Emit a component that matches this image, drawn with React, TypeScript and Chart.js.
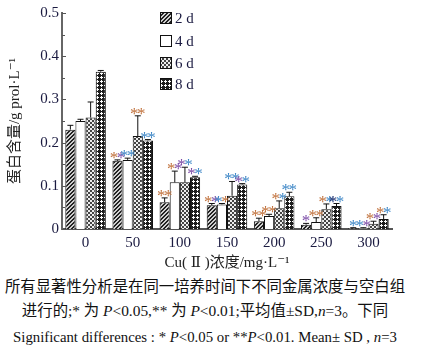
import React, { useEffect, useRef } from "react";
import { Chart, registerables } from "chart.js";
Chart.register(...registerables);

const categories = ["0", "50", "100", "150", "200", "250", "300"];
const seriesNames = ["2 d", "4 d", "6 d", "8 d"];

const mean2d = [0.230, 0.158, 0.062, 0.055, 0.018, 0.010, 0.002];
const sd2d = [0.010, 0.002, 0.010, 0.004, 0.007, 0.003, 0.001];
const mean4d = [0.250, 0.160, 0.108, 0.057, 0.030, 0.016, 0.002];
const sd4d = [0.004, 0.004, 0.026, 0.002, 0.004, 0.010, 0.001];
const mean6d = [0.258, 0.215, 0.108, 0.077, 0.048, 0.046, 0.012];
const sd6d = [0.036, 0.047, 0.035, 0.033, 0.017, 0.012, 0.006];
const mean8d = [0.364, 0.205, 0.120, 0.103, 0.076, 0.053, 0.023];
const sd8d = [0.003, 0.002, 0.002, 0.002, 0.009, 0.006, 0.010];

const sig2d = ["", "**", "**", "**", "**", "*", "*"];
const sig4d = ["", "**", "**", "**", "**", "**", "**"];
const sig6d = ["", "**", "**", "**", "**", "**", "**"];
const sig8d = ["", "**", "**", "**", "**", "**", "**"];

// star colours, one letter per star: o=orange, b=blue, p=purple, n=navy
const sigColor2d = ["", "op", "oo", "op", "oo", "p", "b"];
const sigColor4d = ["", "bb", "op", "bo", "oo", "oo", "bp"];
const sigColor6d = ["", "oo", "pb", "bb", "ob", "ob", "op"];
const sigColor8d = ["", "bb", "pb", "pb", "bb", "nb", "ob"];

const yMin = 0;
const yMax = 0.5;
const yStep = 0.1;
const yMinorStep = 0.05;

const means = [mean2d, mean4d, mean6d, mean8d];
const sds = [sd2d, sd4d, sd6d, sd8d];
const sigs = [sig2d, sig4d, sig6d, sig8d];
const sigColors = [sigColor2d, sigColor4d, sigColor6d, sigColor8d];

const STAR_COLORS: Record<string, string> = {
  o: "#c0703a",
  b: "#3d86c6",
  p: "#7b4aa6",
  n: "#1d2b6b",
};

const SERIF = "'Liberation Serif', 'DejaVu Serif', 'Noto Sans CJK SC', serif";
const TEXT = "#1a1a40";

function makePattern(kind: number): CanvasPattern | string {
  const c = document.createElement("canvas");
  c.width = 4;
  c.height = 4;
  const g = c.getContext("2d")!;
  if (kind === 0) {
    g.fillStyle = "#cfcfcf";
    g.fillRect(0, 0, 4, 4);
    g.fillStyle = "#222";
    for (let i = 0; i < 4; i++) {
      g.fillRect(i, 3 - i, 1, 1);
      g.fillRect((i + 1) % 4, 3 - i, 1, 1);
    }
  } else if (kind === 1) {
    g.fillStyle = "#ffffff";
    g.fillRect(0, 0, 4, 4);
  } else if (kind === 2) {
    g.fillStyle = "#eeeeee";
    g.fillRect(0, 0, 4, 4);
    g.fillStyle = "#444";
    g.fillRect(0, 0, 2, 2);
    g.fillRect(2, 2, 2, 2);
  } else {
    g.fillStyle = "#1e1e1e";
    g.fillRect(0, 0, 4, 4);
    g.fillStyle = "#ffffff";
    g.fillRect(1, 0, 1, 1);
    g.fillRect(0, 1, 3, 1);
    g.fillRect(1, 2, 1, 1);
  }
  return g.createPattern(c, "repeat") || "#888";
}

export default function App() {
  const ref = useRef<HTMLCanvasElement | null>(null);

  useEffect(() => {
    const canvas = ref.current;
    if (!canvas) return;
    const patterns = [0, 1, 2, 3].map(makePattern);

    const extras = {
      id: "extras",
      afterDatasetsDraw(chart: any) {
        const ctx = chart.ctx;
        const y = chart.scales.y;
        ctx.save();
        for (let d = 0; d < means.length; d++) {
          const meta = chart.getDatasetMeta(d);
          meta.data.forEach((bar: any, j: number) => {
            const top = y.getPixelForValue(means[d][j] + sds[d][j]);
            const base = y.getPixelForValue(means[d][j]);
            ctx.strokeStyle = "#111";
            ctx.lineWidth = 1;
            ctx.beginPath();
            ctx.moveTo(bar.x, base);
            ctx.lineTo(bar.x, top);
            ctx.moveTo(bar.x - 3, top);
            ctx.lineTo(bar.x + 3, top);
            ctx.stroke();
            const s = sigs[d][j];
            if (s) {
              const cols = sigColors[d][j];
              ctx.font = "17px " + SERIF;
              ctx.textAlign = "center";
              ctx.textBaseline = "alphabetic";
              const n = s.length;
              for (let k = 0; k < n; k++) {
                const sx = bar.x + (k - (n - 1) / 2) * 7;
                ctx.fillStyle = STAR_COLORS[cols[k] || cols[0]];
                ctx.fillText("*", sx, top + 3);
              }
            }
          });
        }
        ctx.restore();
      },
      afterDraw(chart: any) {
        const ctx = chart.ctx;
        const y = chart.scales.y;
        const left = chart.chartArea.left;
        ctx.save();
        ctx.strokeStyle = "#555";
        ctx.lineWidth = 1;
        for (let v = yMin; v <= yMax + 1e-9; v += yMinorStep) {
          const py = Math.round(y.getPixelForValue(v)) + 0.5;
          const major = Math.abs(v / yStep - Math.round(v / yStep)) < 1e-6;
          ctx.beginPath();
          ctx.moveTo(left, py);
          ctx.lineTo(left + (major ? 4 : 3), py);
          ctx.stroke();
        }
        const lx = 160;
        const rows = [18, 41, 63, 84];
        seriesNames.forEach((name, i) => {
          const cy = rows[i];
          ctx.fillStyle = patterns[i] as any;
          ctx.fillRect(lx, cy - 6, 12, 12);
          ctx.strokeStyle = "#111";
          ctx.lineWidth = 1;
          ctx.strokeRect(lx + 0.5, cy - 5.5, 11, 11);
          ctx.fillStyle = TEXT;
          ctx.font = "15px " + SERIF;
          ctx.textAlign = "left";
          ctx.textBaseline = "middle";
          ctx.fillText(name, lx + 15, cy + 1);
        });
        ctx.restore();
      },
    };

    const chart = new Chart(canvas, {
      type: "bar",
      data: {
        labels: categories,
        datasets: means.map((m, i) => ({
          label: seriesNames[i],
          data: m,
          backgroundColor: patterns[i] as any,
          borderColor: "#111",
          borderWidth: 1,
          categoryPercentage: 0.86,
          barPercentage: 1.0,
        })),
      },
      options: {
        animation: false,
        responsive: false,
        devicePixelRatio: 1,
        layout: { padding: { top: 13, right: 29, left: 0, bottom: 0 } },
        plugins: {
          legend: { display: false },
          tooltip: { enabled: false },
        },
        scales: {
          x: {
            grid: { display: false, drawTicks: false },
            border: { display: true, color: "#555", width: 2 },
            ticks: {
              color: TEXT,
              font: { family: SERIF, size: 15 },
              padding: 5,
            },
            title: {
              display: true,
              text: "Cu( Ⅱ )浓度/mg·L⁻¹",
              color: "#222",
              font: { family: SERIF, size: 15 },
              padding: { top: 0, bottom: 0 },
            },
            afterFit(scale: any) {
              scale.height = 43;
            },
          },
          y: {
            min: yMin,
            max: yMax,
            grid: { display: false, drawTicks: false },
            border: { display: true, color: "#666", width: 2 },
            ticks: {
              stepSize: yStep,
              color: TEXT,
              font: { family: SERIF, size: 15 },
              padding: 3,
              callback: (v: any) => (Number(v) === 0 ? "0" : Number(v).toFixed(1)),
            },
            title: {
              display: true,
              text: "蛋白含量/g prol·L⁻¹",
              color: "#222",
              font: { family: SERIF, size: 15 },
              padding: { top: 6, bottom: 0 },
            },
            afterFit(scale: any) {
              scale.width = 62;
            },
          },
        },
      },
      plugins: [extras],
    } as any);

    return () => chart.destroy();
  }, []);

  const line: React.CSSProperties = {
    position: "absolute",
    left: 0,
    width: 410,
    textAlign: "center",
    whiteSpace: "nowrap",
    color: "#111",
    fontFamily: SERIF,
    lineHeight: "20px",
  };

  return (
    <div
      style={{
        position: "fixed",
        left: 0,
        top: 0,
        width: 421,
        height: 357,
        background: "#fff",
        overflow: "hidden",
      }}
    >
      <canvas
        ref={ref}
        width={421}
        height={272}
        style={{ position: "absolute", left: 0, top: 0, width: 421, height: 272 }}
      />
      <div style={{ ...line, top: 277, fontSize: 15.4 }}>
        所有显著性分析是在同一培养时间下不同金属浓度与空白组
      </div>
      <div style={{ ...line, top: 301, fontSize: 15.4 }}>
        进行的;* 为 <i>P</i>&lt;0.05,** 为 <i>P</i>&lt;0.01;平均值±SD,<i>n</i>=3。下同
      </div>
      <div style={{ ...line, top: 327, fontSize: 14.8 }}>
        Significant differences : * <i>P</i>&lt;0.05 or **<i>P</i>&lt;0.01. Mean± SD , <i>n</i>=3
      </div>
    </div>
  );
}
